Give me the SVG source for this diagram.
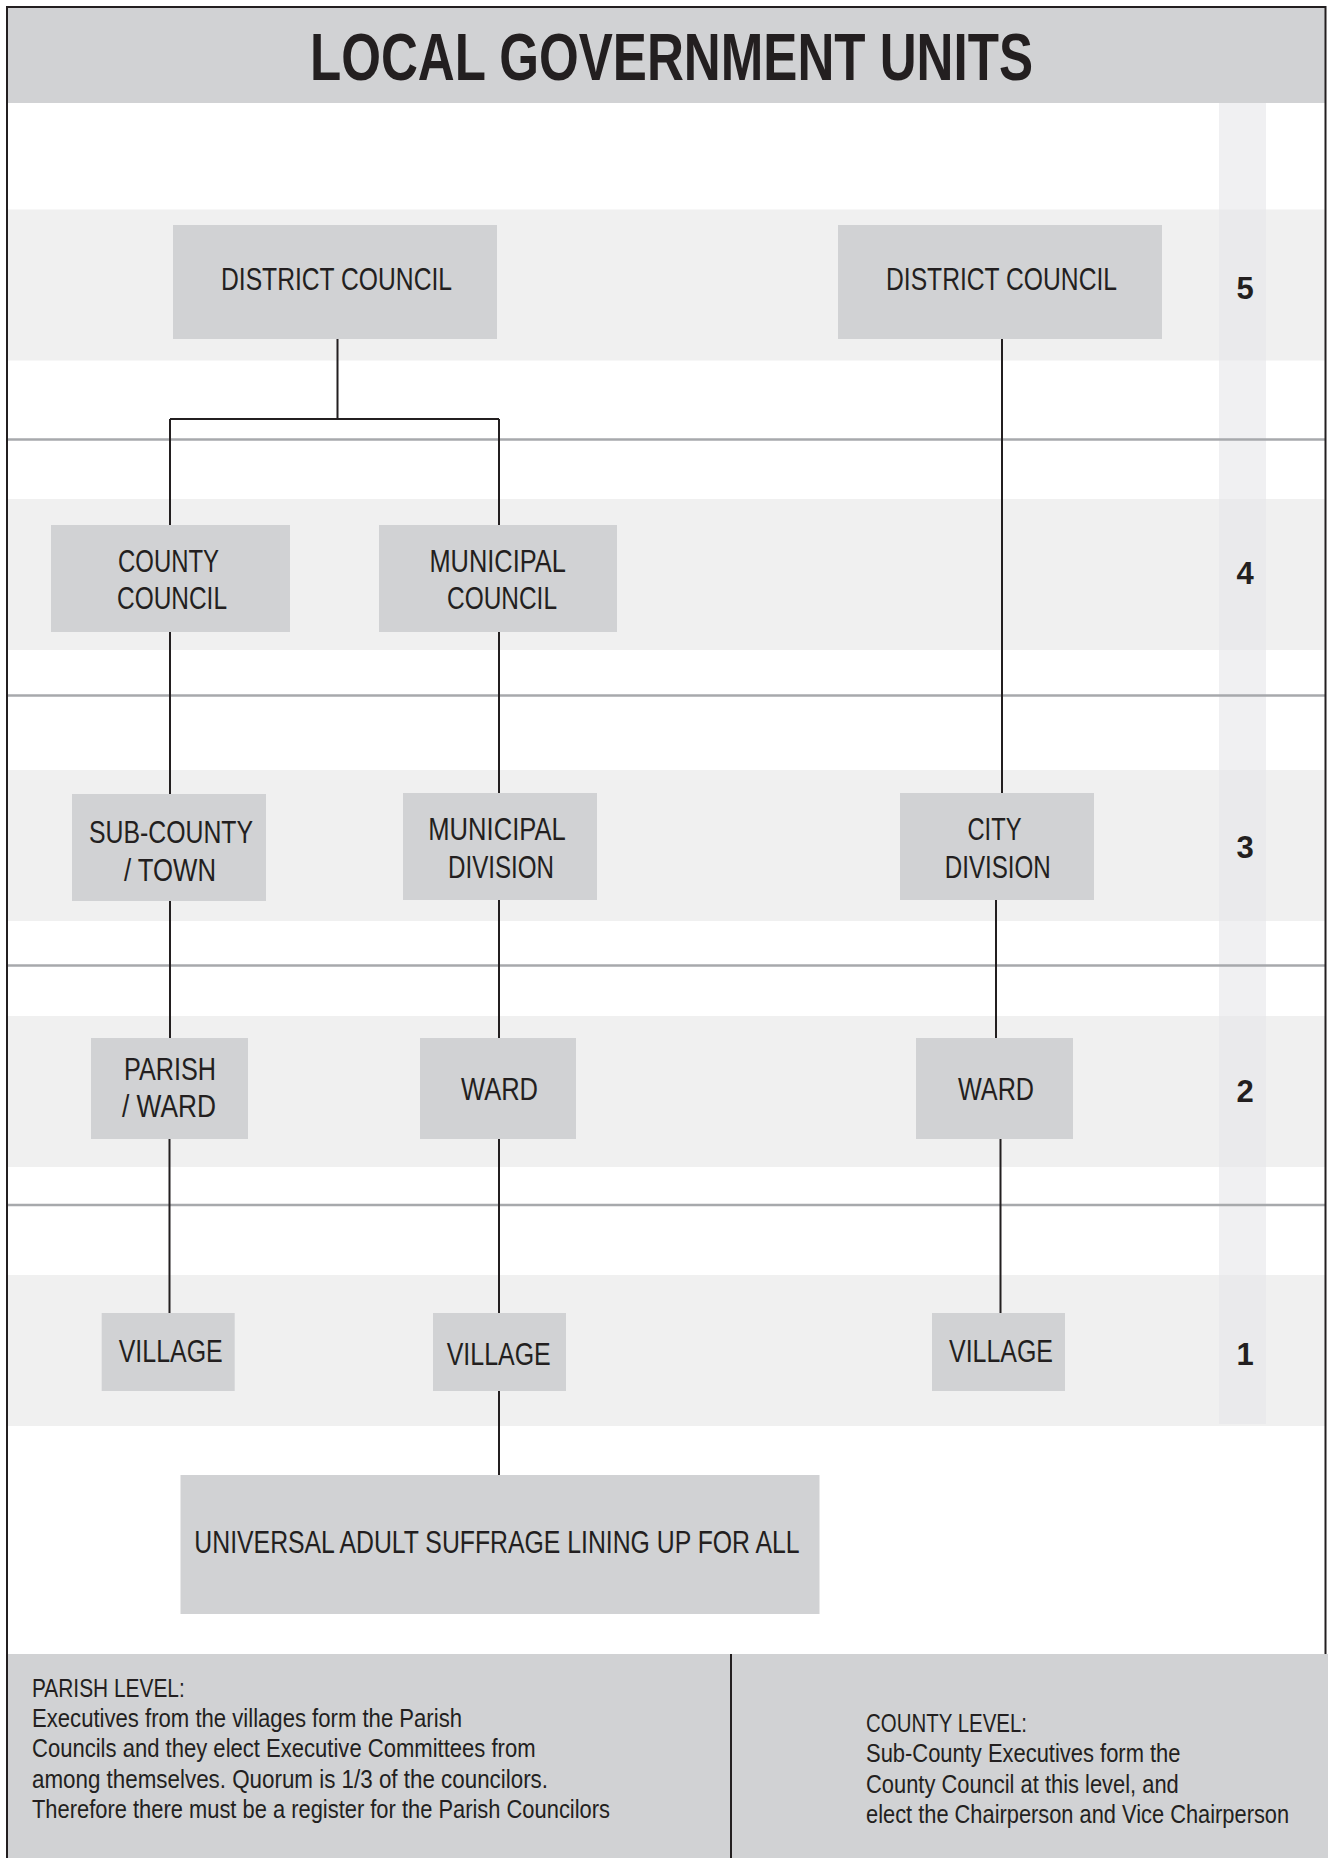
<svg xmlns="http://www.w3.org/2000/svg" width="1328" height="1858" viewBox="0 0 1328 1858">
<style>
.band{fill:#f0f0f0}
.box{fill:#d1d2d4}
.t{font-family:"Liberation Sans",Arial,sans-serif;font-size:31px;fill:#231f20;text-anchor:middle}
.num{font-family:"Liberation Sans",Arial,sans-serif;font-size:31px;font-weight:bold;fill:#231f20;text-anchor:middle}
.note{font-family:"Liberation Sans",Arial,sans-serif;font-size:26px;fill:#231f20}
.sep{stroke:#a7a9ac;stroke-width:2.5;fill:none}
.con{stroke:#231f20;stroke-width:2;fill:none}
.frame{stroke:#231f20;stroke-width:2;fill:none}
</style>
<rect width="1328" height="1858" fill="#ffffff"/>
<g id="background">
<rect x="8" y="8" width="1317" height="95" class="box"/>
<rect class="band" x="8" y="209.5" width="1317" height="151"/>
<rect class="band" x="8" y="499" width="1317" height="151"/>
<rect class="band" x="8" y="770" width="1317" height="151"/>
<rect class="band" x="8" y="1016" width="1317" height="151"/>
<rect class="band" x="8" y="1275" width="1317" height="151"/>
<rect x="1219" y="103" width="47" height="1321" fill="#e6e6ea" opacity="0.6"/>
<line class="sep" x1="7" y1="439.5" x2="1326" y2="439.5"/>
<line class="sep" x1="7" y1="695.5" x2="1326" y2="695.5"/>
<line class="sep" x1="7" y1="965.5" x2="1326" y2="965.5"/>
<line class="sep" x1="7" y1="1205" x2="1326" y2="1205"/>
<rect x="7" y="1654" width="1321" height="204" class="box"/>
</g>
<text x="671.5" y="80" font-family="'Liberation Sans',Arial,sans-serif" font-size="67" font-weight="bold" fill="#231f20" text-anchor="middle" textLength="723" lengthAdjust="spacingAndGlyphs">LOCAL GOVERNMENT UNITS</text>
<g id="connectors">
<path class="con" d="M337.5 339V419M170 419H499M170 419V525M499 419V525"/>
<path class="con" d="M1002 339V793"/>
<path class="con" d="M170 632V794M170 901V1038M169.5 1139V1313"/>
<path class="con" d="M499 632V793M499 900V1038M499 1139V1313M499 1391V1475"/>
<path class="con" d="M996 900V1038M1000.5 1139V1313"/>
</g>
<g id="district-council-1"><rect class="box" x="173" y="225" width="324" height="114"/><text class="t" x="336.5" y="290" textLength="231" lengthAdjust="spacingAndGlyphs">DISTRICT COUNCIL</text></g>
<g id="district-council-2"><rect class="box" x="838" y="225" width="324" height="114"/><text class="t" x="1001.5" y="290" textLength="231" lengthAdjust="spacingAndGlyphs">DISTRICT COUNCIL</text></g>
<g id="county-council"><rect class="box" x="51" y="525" width="239" height="107"/><text class="t" x="168.5" y="571.7" textLength="101" lengthAdjust="spacingAndGlyphs">COUNTY</text><text class="t" x="172" y="609.3" textLength="110" lengthAdjust="spacingAndGlyphs">COUNCIL</text></g>
<g id="municipal-council"><rect class="box" x="379" y="525" width="238" height="107"/><text class="t" x="497.7" y="571.7" textLength="136.5" lengthAdjust="spacingAndGlyphs">MUNICIPAL</text><text class="t" x="502" y="609.3" textLength="110" lengthAdjust="spacingAndGlyphs">COUNCIL</text></g>
<g id="sub-county"><rect class="box" x="72" y="794" width="194" height="107"/><text class="t" x="171" y="843" textLength="164" lengthAdjust="spacingAndGlyphs">SUB-COUNTY</text><text class="t" x="170" y="881" textLength="92" lengthAdjust="spacingAndGlyphs">/ TOWN</text></g>
<g id="municipal-division"><rect class="box" x="403" y="793" width="194" height="107"/><text class="t" x="497" y="840" textLength="137.4" lengthAdjust="spacingAndGlyphs">MUNICIPAL</text><text class="t" x="501" y="877.7" textLength="106" lengthAdjust="spacingAndGlyphs">DIVISION</text></g>
<g id="city-division"><rect class="box" x="900" y="793" width="194" height="107"/><text class="t" x="994.5" y="840" textLength="54" lengthAdjust="spacingAndGlyphs">CITY</text><text class="t" x="997.8" y="877.7" textLength="106" lengthAdjust="spacingAndGlyphs">DIVISION</text></g>
<g id="parish-ward"><rect class="box" x="91" y="1038" width="157" height="101"/><text class="t" x="170" y="1080" textLength="92" lengthAdjust="spacingAndGlyphs">PARISH</text><text class="t" x="169" y="1117" textLength="94" lengthAdjust="spacingAndGlyphs">/ WARD</text></g>
<g id="ward-1"><rect class="box" x="420" y="1038" width="156" height="101"/><text class="t" x="499.5" y="1100" textLength="77" lengthAdjust="spacingAndGlyphs">WARD</text></g>
<g id="ward-2"><rect class="box" x="916" y="1038" width="157" height="101"/><text class="t" x="996" y="1100" textLength="76" lengthAdjust="spacingAndGlyphs">WARD</text></g>
<g id="village-1"><rect class="box" x="101.7" y="1313" width="133" height="78"/><text class="t" x="170.7" y="1362" textLength="104" lengthAdjust="spacingAndGlyphs">VILLAGE</text></g>
<g id="village-2"><rect class="box" x="433" y="1313" width="133" height="78"/><text class="t" x="498.7" y="1365" textLength="104" lengthAdjust="spacingAndGlyphs">VILLAGE</text></g>
<g id="village-3"><rect class="box" x="932" y="1313" width="133" height="78"/><text class="t" x="1001" y="1362" textLength="104" lengthAdjust="spacingAndGlyphs">VILLAGE</text></g>
<g id="universal-suffrage"><rect class="box" x="180.5" y="1475" width="639" height="139"/><text class="t" transform="translate(497 1552.7) scale(0.8 1)" x="0" y="0">UNIVERSAL ADULT SUFFRAGE LINING UP FOR ALL</text></g>
<g id="level-numbers">
<text class="num" x="1245" y="299">5</text>
<text class="num" x="1245" y="584">4</text>
<text class="num" x="1245" y="858">3</text>
<text class="num" x="1245" y="1101.7">2</text>
<text class="num" x="1245" y="1365">1</text>
</g>
<g id="notes">
<line class="frame" x1="731" y1="1654" x2="731" y2="1858"/>
<text class="note" x="32" y="1696.7" textLength="152.7" lengthAdjust="spacingAndGlyphs">PARISH LEVEL:</text>
<text class="note" x="32" y="1726.7" textLength="430" lengthAdjust="spacingAndGlyphs">Executives from the villages form the Parish</text>
<text class="note" x="32" y="1756.7" textLength="503.6" lengthAdjust="spacingAndGlyphs">Councils and they elect Executive Committees from</text>
<text class="note" x="32" y="1787.7" textLength="516" lengthAdjust="spacingAndGlyphs">among themselves. Quorum is 1/3 of the councilors.</text>
<text class="note" x="32" y="1818.3" textLength="578" lengthAdjust="spacingAndGlyphs">Therefore there must be a register for the Parish Councilors</text>
<text class="note" x="866" y="1731.7" textLength="161" lengthAdjust="spacingAndGlyphs">COUNTY LEVEL:</text>
<text class="note" x="866" y="1762.3" textLength="314.5" lengthAdjust="spacingAndGlyphs">Sub-County Executives form the</text>
<text class="note" x="866" y="1793.3" textLength="312.8" lengthAdjust="spacingAndGlyphs">County Council at this level, and</text>
<text class="note" transform="translate(866 1823.3) scale(0.84 1)" x="0" y="0">elect the Chairperson and Vice Chairperson</text>
</g>
<g id="frame">
<path class="frame" d="M7 1858V7H1325.5V1654"/>
</g>
</svg>
